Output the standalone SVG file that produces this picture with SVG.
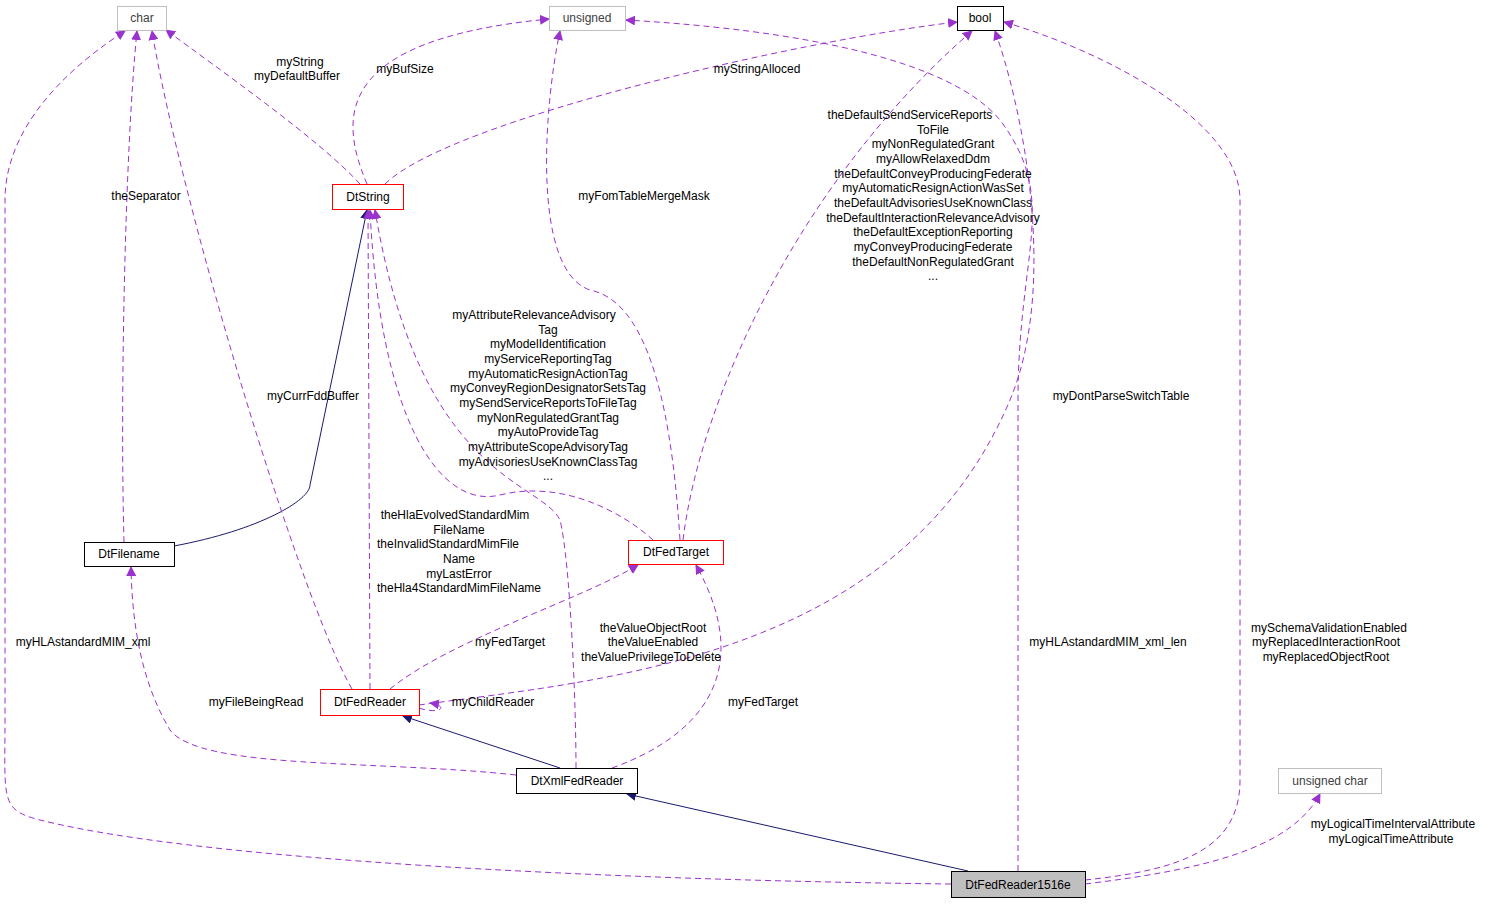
<svg xmlns="http://www.w3.org/2000/svg" width="1489" height="904" viewBox="0 0 1489 904">
<style>
text{font-family:"Liberation Sans",Arial,sans-serif;font-size:12px;fill:#000}
.n rect{fill:#fff;stroke:#000}
.g rect{stroke:#bfbfbf}
.g text{fill:#404040}
.r rect{stroke:#f00}
.d{fill:none;stroke:#9a32cd;stroke-dasharray:6,4;marker-end:url(#pa)}
.s{fill:none;stroke:#191970;marker-end:url(#na)}
.c{text-anchor:middle}
</style>
<defs>
<marker id="pa" viewBox="0 0 10 10" refX="9" refY="5" markerWidth="10" markerHeight="10" markerUnits="userSpaceOnUse" orient="auto"><path d="M0,0L10,5L0,10z" fill="#9a32cd"/></marker>
<marker id="na" viewBox="0 0 10 10" refX="9" refY="5" markerWidth="10" markerHeight="10" markerUnits="userSpaceOnUse" orient="auto"><path d="M0,0L10,5L0,10z" fill="#191970"/></marker>
</defs>
<rect width="1489" height="904" fill="#fff"/>
<g id="connectors">
<path class="d" d="M360,184C320,140 220,70 166,30"/>
<path class="d" d="M367,184C340,120 330,40 549,19"/>
<path class="d" d="M385,184C450,120 800,40 957,22"/>
<path class="d" d="M124,542C120,400 125,150 137,31"/>
<path class="s" d="M174,546C260,530 310,500 310,485L367,210"/>
<path class="d" d="M352,689C300,600 180,200 152,31"/>
<path class="d" d="M370,689L368,210"/>
<path class="d" d="M390,689C450,640 580,600 638,565"/>
<path class="d" d="M419,705C600,680 900,660 1010,400C1060,280 1020,100 995,31"/>
<path class="d" d="M419,708C440,715 450,706 430,703"/>
<path class="d" d="M653,540C620,510 560,480 500,495C440,510 380,420 370,210"/>
<path class="d" d="M680,540C670,380 640,300 590,290C530,270 545,100 560,31"/>
<path class="d" d="M683,540C700,400 800,180 972,31"/>
<path class="s" d="M560,768L403,716"/>
<path class="d" d="M516,775C380,760 200,770 170,730C140,680 132,620 131,567"/>
<path class="d" d="M576,768C576,700 570,560 560,520C540,480 420,480 375,210"/>
<path class="d" d="M612,768C690,740 760,680 696,565"/>
<path class="s" d="M968,871L627,794"/>
<path class="d" d="M951,884C600,880 200,860 40,820C0,810 5,800 5,720L5,200C5,120 80,60 125,31"/>
<path class="d" d="M1018,871L1018,400C1018,250 1060,200 1000,120C950,60 800,30 626,20"/>
<path class="d" d="M1085,880C1180,870 1240,850 1240,780L1240,200C1240,120 1100,50 1004,22"/>
<path class="d" d="M1085,884C1200,870 1290,850 1320,794"/>
</g>
<g id="labels">
<text class="c" x="300" y="66">myString</text>
<text class="c" x="297" y="80">myDefaultBuffer</text>
<text class="c" x="405" y="73">myBufSize</text>
<text class="c" x="757" y="73">myStringAlloced</text>
<text class="c" x="146" y="200">theSeparator</text>
<text class="c" x="313" y="400">myCurrFddBuffer</text>
<text class="c" x="644" y="200">myFomTableMergeMask</text>
<g class="c">
<text x="910" y="119">theDefaultSendServiceReports</text><text x="933" y="134">ToFile</text><text x="933" y="148">myNonRegulatedGrant</text><text x="933" y="163">myAllowRelaxedDdm</text><text x="933" y="178">theDefaultConveyProducingFederate</text><text x="933" y="192">myAutomaticResignActionWasSet</text><text x="933" y="207">theDefaultAdvisoriesUseKnownClass</text><text x="933" y="222">theDefaultInteractionRelevanceAdvisory</text><text x="933" y="236">theDefaultExceptionReporting</text><text x="933" y="251">myConveyProducingFederate</text><text x="933" y="266">theDefaultNonRegulatedGrant</text><text x="933" y="280">...</text>
</g>
<g class="c">
<text x="534" y="319">myAttributeRelevanceAdvisory</text><text x="548" y="334">Tag</text><text x="548" y="348">myModelIdentification</text><text x="548" y="363">myServiceReportingTag</text><text x="548" y="378">myAutomaticResignActionTag</text><text x="548" y="392">myConveyRegionDesignatorSetsTag</text><text x="548" y="407">mySendServiceReportsToFileTag</text><text x="548" y="422">myNonRegulatedGrantTag</text><text x="548" y="436">myAutoProvideTag</text><text x="548" y="451">myAttributeScopeAdvisoryTag</text><text x="548" y="466">myAdvisoriesUseKnownClassTag</text><text x="548" y="480">...</text>
</g>
<g class="c">
<text x="455" y="519">theHlaEvolvedStandardMim</text><text x="459" y="534">FileName</text><text x="448" y="548">theInvalidStandardMimFile</text><text x="459" y="563">Name</text><text x="459" y="578">myLastError</text><text x="459" y="592">theHla4StandardMimFileName</text>
</g>
<text class="c" x="1121" y="400">myDontParseSwitchTable</text>
<text class="c" x="510" y="646">myFedTarget</text>
<text class="c" x="653" y="632">theValueObjectRoot</text>
<text class="c" x="653" y="646">theValueEnabled</text>
<text class="c" x="651" y="661">theValuePrivilegeToDelete</text>
<text class="c" x="83" y="646">myHLAstandardMIM_xml</text>
<text class="c" x="1108" y="646">myHLAstandardMIM_xml_len</text>
<text class="c" x="1329" y="632">mySchemaValidationEnabled</text>
<text class="c" x="1326" y="646">myReplacedInteractionRoot</text>
<text class="c" x="1326" y="661">myReplacedObjectRoot</text>
<text class="c" x="256" y="706">myFileBeingRead</text>
<text class="c" x="493" y="706">myChildReader</text>
<text class="c" x="763" y="706">myFedTarget</text>
<text class="c" x="1393" y="828">myLogicalTimeIntervalAttribute</text>
<text class="c" x="1391" y="843">myLogicalTimeAttribute</text>
</g>
<g id="char" class="n g"><rect x="117.5" y="6.5" width="49" height="24"/><text class="c" x="142" y="22">char</text></g>
<g id="unsigned" class="n g"><rect x="549.5" y="6.5" width="76" height="24"/><text class="c" x="587" y="22">unsigned</text></g>
<g id="bool" class="n"><rect x="957.5" y="6.5" width="46" height="24"/><text class="c" x="980" y="22">bool</text></g>
<g id="DtString" class="n r"><rect x="332.5" y="184.5" width="71" height="25"/><text class="c" x="368" y="201">DtString</text></g>
<g id="DtFilename" class="n"><rect x="84.5" y="542.5" width="90" height="24"/><text class="c" x="129" y="558">DtFilename</text></g>
<g id="DtFedTarget" class="n r"><rect x="628.5" y="540.5" width="95" height="24"/><text class="c" x="676" y="556">DtFedTarget</text></g>
<g id="DtFedReader" class="n r"><rect x="320.5" y="689.5" width="99" height="26"/><text class="c" x="370" y="706">DtFedReader</text></g>
<g id="DtXmlFedReader" class="n"><rect x="516.5" y="768.5" width="121" height="25"/><text class="c" x="577" y="785">DtXmlFedReader</text></g>
<g id="unsigned_char" class="n g"><rect x="1278.5" y="768.5" width="103" height="25"/><text class="c" x="1330" y="785">unsigned char</text></g>
<g id="DtFedReader1516e" class="n"><rect x="951.5" y="871.5" width="134" height="26" style="fill:#bfbfbf"/><text class="c" x="1018" y="889">DtFedReader1516e</text></g>
</svg>
